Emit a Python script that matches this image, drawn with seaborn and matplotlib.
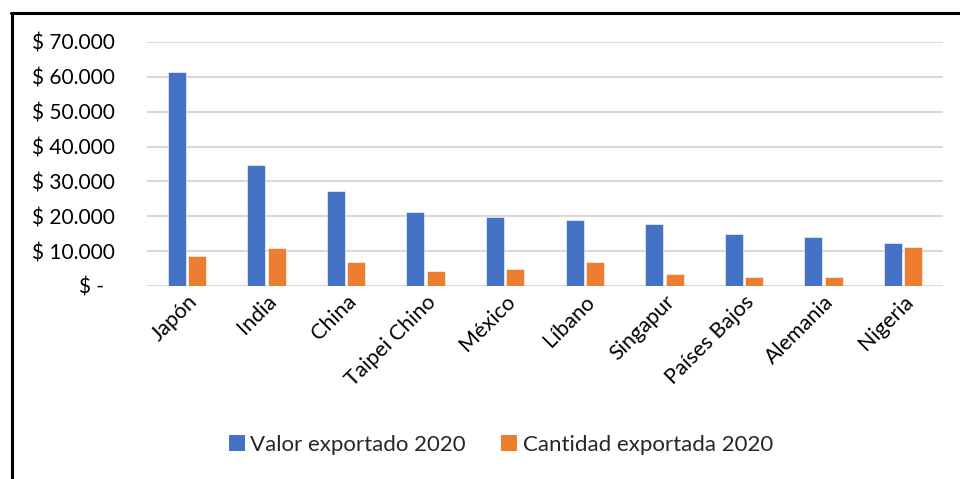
import matplotlib
matplotlib.use("Agg")
import matplotlib.pyplot as plt
import seaborn as sns
import pandas as pd
from matplotlib.lines import Line2D
from matplotlib.patches import Patch

paises = ["Japón", "India", "China", "Taipei Chino", "México", "Líbano",
          "Singapur", "Países Bajos", "Alemania", "Nigeria"]
valor_2020 = [61500, 34800, 27200, 21100, 19900, 18900, 17700, 14800, 14100, 12200]
cantidad_2020 = [8600, 10800, 6900, 4200, 4800, 6900, 3400, 2600, 2500, 11100]
series = ["Valor exportado 2020", "Cantidad exportada 2020"]
y_ticks = [0, 10000, 20000, 30000, 40000, 50000, 60000, 70000]
y_labels = ["$ -  ", "$ 10.000", "$ 20.000", "$ 30.000", "$ 40.000",
            "$ 50.000", "$ 60.000", "$ 70.000"]
colores = ["#4472C4", "#ED7D31"]

df = pd.DataFrame({
    "pais": paises * 2,
    "valor": valor_2020 + cantidad_2020,
    "serie": [series[0]] * len(paises) + [series[1]] * len(paises),
})

sns.set_theme(style="white")
plt.rcParams["font.family"] = ["Lato", "DejaVu Sans"]

W, H = 960, 479
fig = plt.figure(figsize=(W / 100, H / 100), dpi=100)
ax = fig.add_axes([147 / W, 1 - 286 / H, (943 - 147) / W, (286 - 42) / H])

sns.barplot(data=df, x="pais", y="valor", hue="serie", palette=colores,
            width=0.515, gap=0.12, ax=ax, legend=False, saturation=1,
            edgecolor="white", linewidth=0.4)

ax.set_ylim(0, 70000)
ax.set_xlim(-0.5, len(paises) - 0.5)
ax.set_yticks(y_ticks)
ax.set_yticklabels(y_labels, fontsize=15, color="#000000")
ax.yaxis.grid(True, color="#D9D9D9", linewidth=1.5)
ax.set_axisbelow(True)
for s in ax.spines.values():
    s.set_visible(False)
ax.tick_params(axis="y", length=0, pad=23)
ax.tick_params(axis="x", length=0, pad=4)
ax.set_xlabel("")
ax.set_ylabel("")
ax.set_xticks(range(len(paises)))
ax.set_xticklabels(paises, rotation=45, ha="right", va="top",
                   rotation_mode="anchor", fontsize=15.5, color="#000000")

handles = [Patch(facecolor=c, edgecolor="none") for c in colores]
fig.legend(handles, series, loc="center", bbox_to_anchor=(501 / W, 1 - 445 / H),
           ncol=2, frameon=False, fontsize=16, handlelength=0.7, handleheight=0.7,
           handletextpad=0.25, columnspacing=1.6)

fig.add_artist(Line2D([12 / W, 12 / W], [0, 1 - 13 / H], transform=fig.transFigure,
                      color="black", linewidth=2.2))
fig.add_artist(Line2D([11 / W, 1], [1 - 13 / H, 1 - 13 / H], transform=fig.transFigure,
                      color="black", linewidth=2.2))

fig.savefig("out.png", dpi=100, facecolor="white")
